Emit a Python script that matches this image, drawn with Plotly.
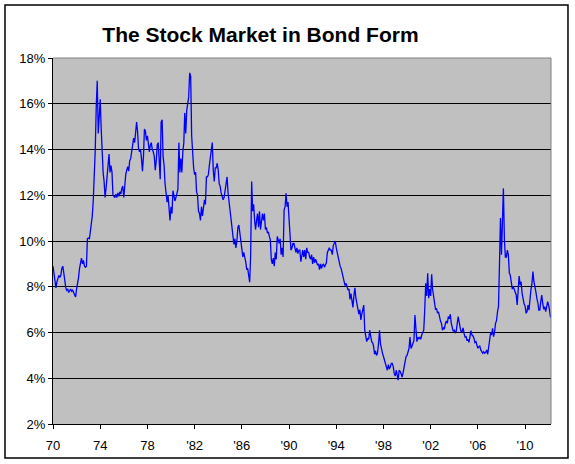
import pandas as pd
import plotly.graph_objects as go

# Monthly earnings-yield style series (percent)
yield_1970s = [
    8.9, 8.6, 8.3, 7.95, 8.2, 8.35, 8.5, 8.4, 8.5, 8.8, 8.9, 8.6,          # 1970
    8.2, 7.95, 7.85, 7.9, 7.75, 7.85, 7.9, 7.8, 7.85, 7.75, 7.6, 7.55,    # 1971
    7.9, 8.1, 8.4, 8.8, 9.1, 9.25, 9.0, 9.15, 8.9, 8.85, 8.9, 10.1,       # 1972
    10.13, 10.1, 10.4, 10.7, 11.1, 11.8, 12.7, 14.0, 15.9, 17.0, 14.7, 15.8,  # 1973
    16.2, 14.9, 13.5, 13.0, 12.6, 11.9, 12.3, 12.9, 13.4, 13.8, 13.0, 13.3,   # 1974
    13.0, 12.0, 11.95, 11.9, 12.05, 11.9, 12.1, 11.95, 12.15, 12.05, 12.3, 12.4,  # 1975
    11.9, 12.5, 12.9, 13.1, 13.25, 13.05, 13.5, 13.6, 14.0, 14.1, 14.5, 14.3,  # 1976
    14.9, 15.2, 14.8, 14.05, 13.9, 14.0, 13.6, 13.05, 13.7, 14.9, 14.8, 14.4,  # 1977
    14.6, 14.2, 13.9, 14.2, 14.3, 14.0, 13.9, 13.7, 13.1, 13.5, 14.2, 14.3,    # 1978
    13.7, 12.7, 15.2, 15.3, 13.7, 13.3, 12.5, 12.2, 11.7, 12.0, 11.3, 10.9,    # 1979
]
yield_1980s = [
    11.5, 11.2, 12.2, 11.9, 11.75, 11.9, 12.15, 12.25, 14.3, 13.0, 13.6, 13.0,  # 1980
    13.9, 14.3, 15.6, 14.7, 15.7, 16.0, 16.3, 17.35, 17.2, 14.6, 13.6, 13.2,    # 1981
    12.9, 13.0, 12.17, 12.0, 11.3, 11.2, 10.9, 11.5, 11.1, 11.4, 11.8, 11.6,    # 1982
    12.8, 12.8, 12.9, 13.3, 13.6, 13.8, 14.3, 13.1, 12.6, 13.2, 13.2, 13.4,     # 1983
    13.1, 12.5, 12.4, 12.1, 11.9, 11.8, 11.9, 12.2, 12.46, 12.8, 12.1, 11.7,    # 1984
    11.4, 11.1, 10.6, 10.2, 9.85, 10.1, 9.7, 10.0, 10.6, 10.7, 10.3, 10.1,      # 1985
    9.55, 9.3, 9.5, 9.3, 9.1, 8.75, 8.8, 8.5, 8.2, 9.4, 12.6, 11.3,             # 1986
    11.6, 10.9, 10.5, 10.9, 11.2, 10.6, 11.3, 10.5, 10.8, 11.2, 10.9, 11.2,     # 1987
    10.5, 10.6, 10.35, 10.4, 10.2, 10.05, 9.2, 9.0, 9.25, 8.9, 9.5, 9.2,        # 1988
    10.2, 10.05, 9.9, 10.1, 9.4, 9.7, 9.3, 11.35, 11.5, 12.08, 11.5, 11.7,      # 1989
]
yield_1990s = [
    11.0, 10.05, 9.6, 9.7, 9.9, 9.9, 9.6, 9.5, 9.7, 9.45, 9.6, 9.6,            # 1990
    9.1, 9.3, 9.6, 9.3, 9.6, 9.2, 9.7, 9.5, 9.5, 9.3, 9.2, 9.4,                # 1991
    9.0, 9.3, 9.05, 9.2, 9.1, 8.95, 9.0, 8.75, 9.0, 8.8, 8.95, 9.0,            # 1992
    8.85, 8.95, 9.05, 9.5, 9.6, 9.7, 9.6, 9.6, 9.4, 9.8, 9.9, 10.0,            # 1993
    9.7, 9.45, 9.3, 9.0, 8.9, 8.8, 8.6, 8.3, 8.2, 8.05, 8.15, 7.95,            # 1994
    7.85, 7.9, 7.45, 7.7, 7.35, 7.1, 7.6, 7.95, 7.5, 7.3, 7.1, 6.8,            # 1995
    7.0, 6.55, 6.8, 7.1, 7.2, 6.1, 5.9, 5.6, 5.75, 5.7, 6.1, 5.75,             # 1996
    5.6, 5.55, 5.4, 5.05, 5.2, 5.0, 5.1, 5.5, 6.1, 5.5, 5.2, 5.1,              # 1997
    4.95, 4.8, 4.7, 4.6, 4.35, 4.6, 4.4, 4.5, 4.65, 4.65, 4.5, 4.2,            # 1998
    4.1, 4.35, 4.1, 3.92, 4.35, 4.3, 4.2, 4.05, 4.25, 4.5, 4.75, 4.95,         # 1999
]
yield_2000s = [
    5.0, 5.15, 5.3, 5.8, 5.3, 5.4, 5.55, 5.65, 6.76, 6.25, 5.6, 5.8,           # 2000
    5.7, 5.8, 5.7, 5.9, 6.0, 6.1, 6.98, 8.15, 7.6, 8.59, 7.5, 7.9,             # 2001
    7.6, 8.55, 7.9, 7.6, 7.3, 7.0, 7.05, 6.85, 6.9, 6.65, 6.5, 6.4,            # 2002
    6.1, 6.2, 6.15, 6.4, 6.5, 6.4, 6.7, 6.6, 6.8, 6.4, 6.25, 6.05,             # 2003
    6.1, 6.0, 6.05, 6.4, 6.7, 6.45, 6.25, 6.0, 6.05, 6.2, 5.95, 5.8,           # 2004
    5.82, 5.64, 5.7, 5.57, 5.82, 6.08, 5.89, 5.85, 5.75, 5.56, 5.6, 5.41,      # 2005
    5.31, 5.38, 5.41, 5.24, 5.19, 5.09, 5.16, 5.09, 5.13, 5.24, 5.05, 5.38,    # 2006
    5.53, 6.0, 5.89, 6.18, 5.82, 6.0, 6.4, 6.52, 6.91, 7.13, 9.0, 11.0,        # 2007
    9.4, 10.7, 12.3, 10.05, 9.3, 9.3, 9.6, 9.4, 8.6, 8.5, 8.2, 7.9,            # 2008
    8.0, 7.86, 7.71, 7.64, 7.2, 8.0, 8.47, 8.07, 8.22, 7.71, 7.42, 7.25,       # 2009
]
yield_2010s = [
    7.16, 6.84, 6.91, 7.2, 6.98, 7.57, 7.86, 8.15, 8.66, 8.22, 7.86, 7.78,     # 2010
    7.49, 7.3, 6.98, 6.98, 7.35, 7.64, 7.27, 7.01, 7.13, 6.91, 7.13, 7.35,     # 2011
    7.2, 6.84, 6.65,                                                          # 2012
]

values = yield_1970s + yield_1980s + yield_1990s + yield_2000s + yield_2010s
dates = pd.date_range("1970-01-01", periods=len(values), freq="MS")

tick_years = [1970, 1974, 1978, 1982, 1986, 1990, 1994, 1998, 2002, 2006, 2010]
tick_labels = ["70", "74", "78", "'82", "'86", "'90", "'94", "'98", "'02", "'06", "'10"]
y_ticks = [2, 4, 6, 8, 10, 12, 14, 16, 18]

FONT = "Arial, 'Liberation Sans', sans-serif"

fig = go.Figure()
fig.add_trace(go.Scatter(
    x=dates, y=values, mode="lines",
    line=dict(color="#0000FF", width=1.3),
    hoverinfo="skip", showlegend=False,
))

fig.update_layout(
    width=575, height=464,
    margin=dict(l=53, r=24, t=58, b=40),
    paper_bgcolor="white",
    plot_bgcolor="#C0C0C0",
    title=dict(
        text="<b>The Stock Market in Bond Form</b>",
        font=dict(family=FONT, size=21, color="black"),
        x=0.453, xanchor="center", xref="container",
        y=0.925, yanchor="middle", yref="container",
    ),
    xaxis=dict(
        type="date",
        range=["1970-01-01", "2012-03-13"],
        tickvals=[f"{y}-01-01" for y in tick_years],
        ticktext=tick_labels,
        showgrid=False, zeroline=False,
        showline=True, linecolor="black", linewidth=1,
        ticks="outside", ticklen=4, tickcolor="black", tickwidth=1,
        ticklabelstandoff=5,
        tickfont=dict(family=FONT, size=13, color="black"),
        fixedrange=True,
    ),
    yaxis=dict(
        range=[2, 18],
        tickvals=y_ticks,
        ticktext=[f"{v}%" for v in y_ticks],
        showgrid=True, gridcolor="black", gridwidth=1,
        zeroline=False,
        showline=True, linecolor="black", linewidth=1,
        ticks="outside", ticklen=4, tickcolor="black", tickwidth=1,
        tickfont=dict(family=FONT, size=13, color="black"),
        fixedrange=True,
    ),
    shapes=[
        # gray top & right plot-area border
        dict(type="line", xref="paper", yref="paper", x0=0, x1=1, y0=1, y1=1,
             line=dict(color="#808080", width=1), layer="above"),
        dict(type="line", xref="paper", yref="paper", x0=1, x1=1, y0=0, y1=1,
             line=dict(color="#808080", width=1), layer="above"),
        # outer chart frame
        dict(type="rect", xref="paper", yref="paper",
             x0=-0.0964, x1=1.0341, y0=-0.0929, y1=1.1448,
             line=dict(color="black", width=1.5), fillcolor="rgba(0,0,0,0)", layer="above"),
    ],
)

fig.write_html("out.html")
